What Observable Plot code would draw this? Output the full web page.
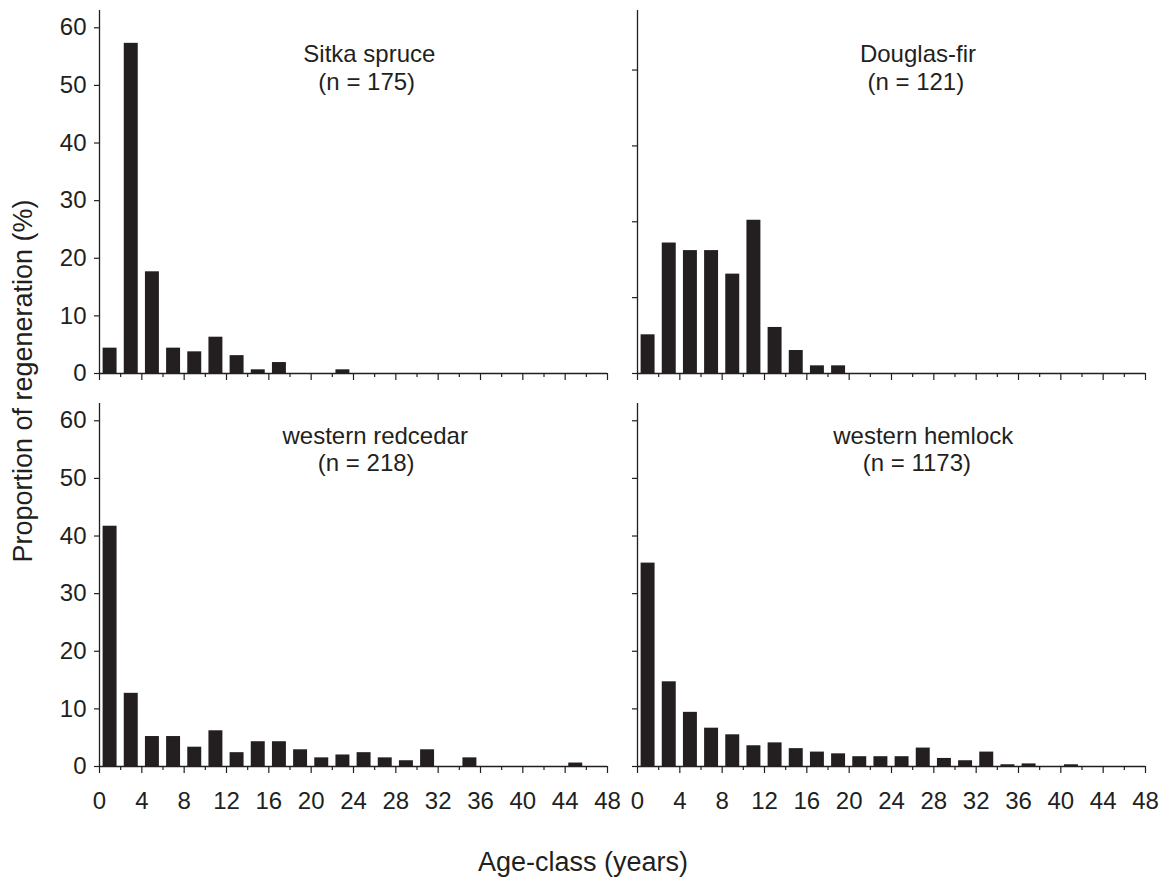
<!DOCTYPE html>
<html>
<head>
<meta charset="utf-8">
<script src="https://cdn.jsdelivr.net/npm/d3@7"></script>
<script src="https://cdn.jsdelivr.net/npm/@observablehq/plot@0.6"></script>
<style>
  body { margin: 0; background: #fff; }
  #chart { position: relative; width: 1166px; height: 880px; font-family: "Liberation Sans", Arial, Helvetica, sans-serif; color: #231f20; }
  .panel { position: absolute; }
  .ylab { position: absolute; left: 23px; top: 381px; transform: translate(-50%, -50%) rotate(-90deg); white-space: nowrap; font-size: 27px; }
  .xlab { position: absolute; left: 583px; top: 862px; transform: translate(-50%, -50%); white-space: nowrap; font-size: 27px; }
</style>
</head>
<body>
<div id="chart"></div>
<script>
// Age-class starts (2-year classes, 0-2 ... 46-48)
const ageClassStarts = d3.range(0, 48, 2);
const majorTicks = d3.range(0, 49, 4);
const minorTicks = d3.range(2, 48, 4);
const yTicksMain = [0, 10, 20, 30, 40, 50, 60];
const yTicksDouglas = [0, 10, 20, 30, 40];

// Proportion of regeneration (%) per age-class
const sitkaSpruce     = [4.4, 57.3, 17.65, 4.4, 3.76, 6.3, 3.1, 0.64, 1.9, 0, 0, 0.64, 0, 0, 0, 0, 0, 0, 0, 0, 0, 0, 0, 0];
const douglasFir      = [5.1, 17.2, 16.2, 16.2, 13.1, 20.2, 6.07, 3.03, 1.01, 1.01, 0, 0, 0, 0, 0, 0, 0, 0, 0, 0, 0, 0, 0, 0];
const westernRedcedar = [41.7, 12.7, 5.2, 5.2, 3.35, 6.2, 2.4, 4.3, 4.3, 2.9, 1.5, 2.0, 2.4, 1.5, 1.0, 2.9, 0, 1.5, 0, 0, 0, 0, 0.6, 0];
const westernHemlock  = [35.3, 14.7, 9.4, 6.65, 5.5, 3.6, 4.1, 3.1, 2.5, 2.2, 1.7, 1.7, 1.7, 3.2, 1.4, 1.0, 2.5, 0.3, 0.45, 0, 0.3, 0, 0, 0];

const speciesNames = ["Sitka spruce", "Douglas-fir", "western redcedar", "western hemlock"];
const sampleSizes = [175, 121, 218, 1173];

const ink = "#231f20";
const font = '"Liberation Sans", Arial, Helvetica, sans-serif';

const layout = [
  { values: sitkaSpruce,     col: 0, row: 0, yMax: 63,    yTicks: yTicksMain,    l1: 25.5, l2: 25.25 },
  { values: douglasFir,      col: 1, row: 0, yMax: 47.85, yTicks: yTicksDouglas, l1: 26.5, l2: 26.3 },
  { values: westernRedcedar, col: 0, row: 1, yMax: 63,    yTicks: yTicksMain,    l1: 26.05, l2: 25.2 },
  { values: westernHemlock,  col: 1, row: 1, yMax: 63,    yTicks: yTicksMain,    l1: 27.0, l2: 26.4 }
];

const cols = [
  { left: 0,   width: 620, marginLeft: 99, marginRight: 13 },
  { left: 620, width: 546, marginLeft: 17, marginRight: 21 }
];
const rows = [
  { top: 0,   height: 390, marginTop: 10, marginBottom: 17, d1: 51.5, d2: 79 },
  { top: 390, height: 490, marginTop: 13, marginBottom: 114, d1: 40.3, d2: 67.5 }
];

const chart = document.getElementById("chart");

layout.forEach((p, i) => {
  const c = cols[p.col], r = rows[p.row];
  const data = ageClassStarts.map((s, k) => ({ start: s, value: p.values[k] }));
  const plot = Plot.plot({
    width: c.width,
    height: r.height,
    marginLeft: c.marginLeft,
    marginRight: c.marginRight,
    marginTop: r.marginTop,
    marginBottom: r.marginBottom,
    style: { fontSize: "24px", fontFamily: font, color: ink, background: "transparent", overflow: "visible" },
    x: { domain: [0, 48], label: null },
    y: { domain: [0, p.yMax], label: null },
    marks: [
      Plot.rectY(data, { x1: "start", x2: d => d.start + 2, y: "value", insetLeft: 3.6, insetRight: 3.6, fill: ink }),
      Plot.ruleY([0], { stroke: ink, strokeWidth: 1.3 }),
      Plot.ruleX([0], { stroke: ink, strokeWidth: 1.3 }),
      Plot.axisX({ ticks: minorTicks, tickSize: 4, fill: "none", stroke: ink, strokeWidth: 1.2, label: null }),
      p.row === 1
        ? Plot.axisX({ ticks: majorTicks, tickSize: 7, tickPadding: 18, stroke: ink, strokeWidth: 1.2, fill: ink, fontSize: 24, label: null })
        : Plot.axisX({ ticks: majorTicks, tickSize: 7, fill: "none", stroke: ink, strokeWidth: 1.2, label: null }),
      p.col === 0
        ? Plot.axisY({ ticks: p.yTicks, tickSize: 5, tickPadding: 8, stroke: ink, strokeWidth: 1.2, fill: ink, fontSize: 24, label: null })
        : Plot.axisY({ ticks: p.yTicks, tickSize: 5, fill: "none", stroke: ink, strokeWidth: 1.2, label: null }),
      Plot.text([speciesNames[i]], { x: () => p.l1, frameAnchor: "top", dy: r.d1, lineAnchor: "bottom", text: d => d, fontSize: 24, fill: ink }),
      Plot.text([`(n = ${sampleSizes[i]})`], { x: () => p.l2, frameAnchor: "top", dy: r.d2, lineAnchor: "bottom", text: d => d, fontSize: 24, fill: ink })
    ]
  });
  plot.classList.add("panel");
  plot.style.left = c.left + "px";
  plot.style.top = r.top + "px";
  chart.appendChild(plot);
});

const ylab = document.createElement("div");
ylab.className = "ylab";
ylab.textContent = "Proportion of regeneration (%)";
chart.appendChild(ylab);

const xlab = document.createElement("div");
xlab.className = "xlab";
xlab.textContent = "Age-class (years)";
chart.appendChild(xlab);
</script>
</body>
</html>
